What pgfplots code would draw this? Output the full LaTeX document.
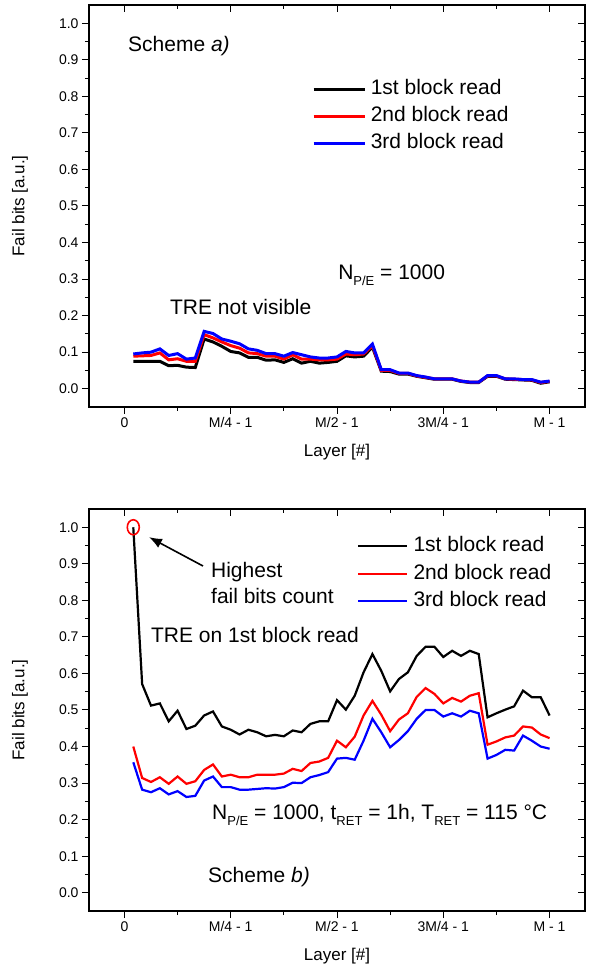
\documentclass[border=0pt]{standalone}
\usepackage{pgfplots}
\pgfplotsset{compat=1.18}
\usepackage{pgfplotstable}
\usepackage{fontspec}
\setmainfont{Liberation Sans}
\usetikzlibrary{arrows.meta}

\pgfplotstableread{
x b r bl
1 0.075 0.089 0.095
2 0.075 0.090 0.098
3 0.075 0.091 0.100
4 0.075 0.098 0.109
5 0.063 0.079 0.091
6 0.064 0.082 0.096
7 0.059 0.075 0.081
8 0.058 0.075 0.084
9 0.136 0.148 0.157
10 0.128 0.139 0.151
11 0.116 0.128 0.136
12 0.102 0.118 0.130
13 0.098 0.111 0.123
14 0.086 0.098 0.109
15 0.086 0.096 0.105
16 0.078 0.089 0.096
17 0.079 0.089 0.096
18 0.072 0.081 0.089
19 0.082 0.093 0.099
20 0.070 0.081 0.093
21 0.075 0.081 0.087
22 0.070 0.079 0.084
23 0.072 0.079 0.084
24 0.075 0.081 0.087
25 0.090 0.095 0.102
26 0.087 0.093 0.098
27 0.089 0.095 0.098
28 0.114 0.118 0.122
29 0.048 0.050 0.052
30 0.047 0.050 0.052
31 0.040 0.042 0.043
32 0.040 0.042 0.043
33 0.034 0.035 0.036
34 0.030 0.031 0.032
35 0.026 0.027 0.027
36 0.026 0.027 0.027
37 0.026 0.027 0.027
38 0.020 0.021 0.021
39 0.017 0.018 0.018
40 0.017 0.018 0.018
41 0.034 0.035 0.036
42 0.034 0.035 0.036
43 0.026 0.027 0.027
44 0.025 0.026 0.027
45 0.024 0.025 0.025
46 0.023 0.024 0.025
47 0.015 0.017 0.018
48 0.019 0.020 0.021
}\topdata

\pgfplotstableread{
x b r bl
1 1.000 0.400 0.357
2 0.571 0.314 0.282
3 0.512 0.303 0.275
4 0.518 0.316 0.286
5 0.469 0.298 0.269
6 0.498 0.318 0.278
7 0.448 0.298 0.262
8 0.457 0.305 0.265
9 0.485 0.336 0.307
10 0.496 0.351 0.318
11 0.455 0.318 0.289
12 0.446 0.323 0.289
13 0.433 0.316 0.282
14 0.446 0.316 0.282
15 0.439 0.323 0.284
16 0.428 0.323 0.286
17 0.432 0.323 0.285
18 0.428 0.326 0.289
19 0.444 0.339 0.301
20 0.439 0.333 0.300
21 0.462 0.355 0.316
22 0.469 0.359 0.322
23 0.469 0.369 0.330
24 0.527 0.416 0.367
25 0.501 0.398 0.369
26 0.539 0.427 0.364
27 0.603 0.485 0.416
28 0.653 0.525 0.476
29 0.607 0.487 0.439
30 0.551 0.442 0.398
31 0.585 0.474 0.418
32 0.603 0.491 0.442
33 0.648 0.536 0.476
34 0.673 0.560 0.500
35 0.673 0.544 0.500
36 0.645 0.518 0.482
37 0.662 0.533 0.491
38 0.648 0.523 0.482
39 0.662 0.539 0.498
40 0.653 0.546 0.491
41 0.480 0.405 0.367
42 0.491 0.414 0.377
43 0.501 0.425 0.391
44 0.510 0.430 0.389
45 0.553 0.455 0.430
46 0.535 0.452 0.416
47 0.535 0.433 0.400
48 0.485 0.423 0.394
}\botdata

\pgfplotsset{
  panel/.style={
    scale only axis, width=496pt, height=402pt,
    xmin=-4, xmax=52, ymin=-0.05, ymax=1.05,
    axis line style={line width=1.2pt},
    xtick={0,12,24,36,48},
    xticklabels={0,M/4 - 1,M/2 - 1,3M/4 - 1,M - 1},
    minor xtick={6,18,30,42},
    ytick={0,0.1,0.2,0.3,0.4,0.5,0.6,0.7,0.8,0.9,1.0},
    minor ytick={0.05,0.15,0.25,0.35,0.45,0.55,0.65,0.75,0.85,0.95},
    yticklabel style={/pgf/number format/.cd, fixed, fixed zerofill, precision=1},
    /pgf/number format/assume math mode=true,
    major tick length=7pt, minor tick length=4pt,
    every tick/.style={black, line width=1pt},
    ticklabel style={font=\fontsize{14}{14}\selectfont},
  },
  mainpanel/.style={
    panel, tick align=outside, xtick pos=left, ytick pos=left,
    xlabel={Layer [\#]}, ylabel={Fail bits [a.u.]},
    every axis y label/.style={at={(axis description cs:-0.139,0.5)}, rotate=90, anchor=center, font=\fontsize{17}{17}\selectfont},
    every axis x label/.style={at={(axis description cs:0.5,-0.112)}, anchor=center, font=\fontsize{17}{17}\selectfont},
    legend cell align=left,
  },
  ticpanel/.style={
    panel, tick align=inside, xtick pos=right, ytick pos=right,
    xticklabels={}, yticklabels={}, axis line style={draw=none},
  },
}

\begin{document}
\begin{tikzpicture}[x=1pt,y=1pt]
\path[use as bounding box] (-89pt,-60pt) rectangle (503pt,911pt);

% ---------------- top panel ----------------
\begin{axis}[mainpanel, at={(0pt,504pt)}, anchor=south west,
  legend style={draw=none, fill=none, inner sep=0pt, at={(axis cs:21.2,0.851)}, anchor=north west,
    font=\fontsize{21}{21}\selectfont, row sep=4pt, column sep=3pt,
    nodes={inner sep=2pt, text height=15pt, text depth=4pt}},
  legend image code/.code={\draw[#1, line width=2.4pt] (0pt,0pt) -- (51pt,0pt);},
]
\addplot[black, line width=3pt] table[x=x, y=b] {\topdata};
\addplot[red, line width=3pt] table[x=x, y=r] {\topdata};
\addplot[blue, line width=3pt] table[x=x, y=bl] {\topdata};
\legend{1st block read, 2nd block read, 3rd block read}
\node[anchor=base west, inner sep=0, font=\fontsize{21}{21}\selectfont] at (axis cs:0.40,0.922) {Scheme \textit{a)}};
\node[anchor=base west, inner sep=0, font=\fontsize{21}{21}\selectfont] at (axis cs:24.12,0.300) {N\raisebox{-6pt}{\fontsize{13}{13}\selectfont P/E} = 1000};
\node[anchor=base west, inner sep=0, font=\fontsize{21}{21}\selectfont] at (axis cs:5.14,0.204) {TRE not visible};
\end{axis}
\begin{axis}[ticpanel, at={(0pt,504pt)}, anchor=south west]
\end{axis}

% ---------------- bottom panel ----------------
\begin{axis}[mainpanel, at={(0pt,0pt)}, anchor=south west,
  legend style={draw=none, fill=none, inner sep=0pt, at={(axis cs:26.27,0.980)}, anchor=north west,
    font=\fontsize{21}{21}\selectfont, row sep=4.5pt, column sep=3pt,
    nodes={inner sep=2pt, text height=15pt, text depth=4pt}},
  legend image code/.code={\draw[#1] (0pt,0pt) -- (49pt,0pt);},
]
\addplot[black, line width=2.2pt] table[x=x, y=b] {\botdata};
\addplot[red, line width=2.2pt] table[x=x, y=r] {\botdata};
\addplot[blue, line width=2.2pt] table[x=x, y=bl] {\botdata};
\legend{1st block read, 2nd block read, 3rd block read}
\addplot[red, line width=1.6pt, only marks, mark=o, mark size=7.5pt, mark options={xscale=0.8}, forget plot] coordinates {(1,1.0)};
\draw[-{Latex[length=13pt,width=10pt]}, line width=1.6pt] (axis cs:8.87,0.894) -- (axis cs:2.77,0.973);
\node[anchor=base west, inner sep=0, font=\fontsize{21}{21}\selectfont] at (axis cs:9.77,0.862) {Highest};
\node[anchor=base west, inner sep=0, font=\fontsize{21}{21}\selectfont] at (axis cs:9.77,0.791) {fail bits count};
\node[anchor=base west, inner sep=0, font=\fontsize{21}{21}\selectfont] at (axis cs:2.99,0.685) {TRE on 1st block read};
\node[anchor=base west, inner sep=0, font=\fontsize{21}{21}\selectfont] at (axis cs:9.89,0.1996) {N\raisebox{-6pt}{\fontsize{13}{13}\selectfont P/E} = 1000, t\raisebox{-6pt}{\fontsize{13}{13}\selectfont RET} = 1h, T\raisebox{-6pt}{\fontsize{13}{13}\selectfont RET} = 115 °C};
\node[anchor=base west, inner sep=0, font=\fontsize{21}{21}\selectfont] at (axis cs:9.44,0.028) {Scheme \textit{b)}};
\end{axis}
\begin{axis}[ticpanel, at={(0pt,0pt)}, anchor=south west]
\end{axis}
\end{tikzpicture}
\end{document}
